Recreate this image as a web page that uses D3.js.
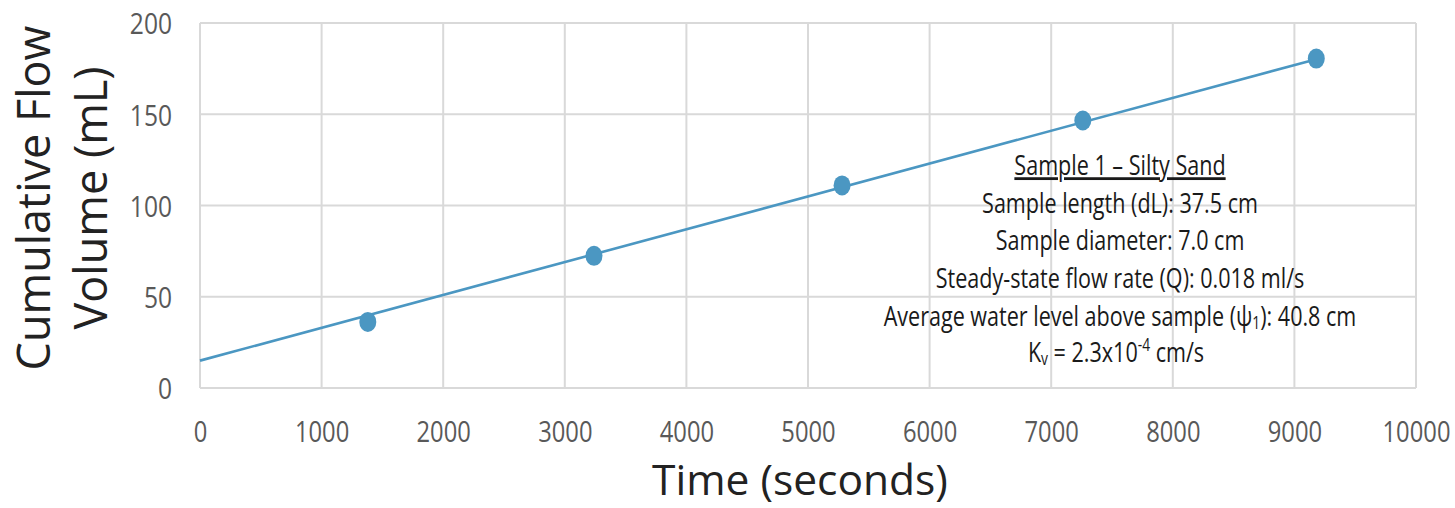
<!DOCTYPE html>
<html>
<head>
<meta charset="utf-8">
<script src="https://cdn.jsdelivr.net/npm/d3@7"></script>
<style>
  html, body { margin: 0; padding: 0; background: #fff; }
  svg { display: block; }
</style>
</head>
<body>
<svg id="chart" width="1455" height="508"></svg>
<script>
// ---- data ----
const timeSeconds = [1380, 3240, 5280, 7260, 9180];
const cumulativeVolume = [36.2, 72.4, 111, 146.6, 180.5];
const trendTime = [0, 9180];
const trendVolume = [15, 180.2];
const xTicks = [0, 1000, 2000, 3000, 4000, 5000, 6000, 7000, 8000, 9000, 10000];
const yTicks = [0, 50, 100, 150, 200];
const xTitle = "Time (seconds)";
const yTitleLines = ["Cumulative Flow", "Volume (mL)"];
const noteTitle = "Sample 1 \u2013 Silty Sand";
const noteLines = [
  "Sample length (dL): 37.5 cm",
  "Sample diameter: 7.0 cm",
  "Steady-state flow rate (Q): 0.018 ml/s"
];

// ---- layout ----
const svg = d3.select("#chart");
const plotLeft = 200, plotRight = 1416, plotTop = 23, plotBottom = 388;
const x = d3.scaleLinear().domain([0, 10000]).range([plotLeft, plotRight]);
const y = d3.scaleLinear().domain([0, 200]).range([plotBottom, plotTop]);
const tickSqueeze = 0.82;
const noteSqueeze = 0.77;
const font = "'Open Sans', 'Noto Sans', sans-serif";
const gridColor = "#d9d9d9";
const blue = "#4b97c2";

// gridlines
svg.append("g").selectAll("line").data(xTicks).join("line")
  .attr("x1", d => x(d)).attr("x2", d => x(d))
  .attr("y1", plotTop).attr("y2", plotBottom)
  .attr("stroke", gridColor).attr("stroke-width", 2);
svg.append("g").selectAll("line").data(yTicks).join("line")
  .attr("x1", plotLeft).attr("x2", plotRight)
  .attr("y1", d => y(d)).attr("y2", d => y(d))
  .attr("stroke", gridColor).attr("stroke-width", 2);

// axes (labels only)
const xAxis = svg.append("g").attr("transform", `translate(0,${plotBottom})`)
  .call(d3.axisBottom(x).tickValues(xTicks).tickSize(0).tickFormat(d3.format("d")));
xAxis.select(".domain").remove();
xAxis.selectAll("text")
  .attr("y", 54).attr("dy", 0)
  .attr("font-family", font).attr("font-size", 29).attr("fill", "#595959")
  .attr("transform", `scale(${tickSqueeze},1)`);

const yAxis = svg.append("g").attr("transform", `translate(${plotLeft},0)`)
  .call(d3.axisLeft(y).tickValues(yTicks).tickSize(0).tickFormat(d3.format("d")));
yAxis.select(".domain").remove();
yAxis.selectAll("text")
  .attr("x", -28 / tickSqueeze).attr("dy", "0.36em")
  .attr("font-family", font).attr("font-size", 30).attr("fill", "#595959")
  .attr("transform", `scale(${tickSqueeze},1)`);

// trendline
const line = d3.line().x(d => x(d[0])).y(d => y(d[1]));
svg.append("path")
  .datum(trendTime.map((t, i) => [t, trendVolume[i]]))
  .attr("d", line).attr("fill", "none")
  .attr("stroke", blue).attr("stroke-width", 2.6);

// points
svg.append("g").selectAll("ellipse").data(timeSeconds).join("ellipse")
  .attr("cx", d => x(d)).attr("cy", (d, i) => y(cumulativeVolume[i]))
  .attr("rx", 8.5).attr("ry", 10).attr("fill", blue);

// axis titles
svg.append("text").attr("x", 800).attr("y", 495)
  .attr("text-anchor", "middle").attr("font-family", font)
  .attr("font-size", 42.5).attr("fill", "#222").text(xTitle);

const yt = svg.append("g").attr("transform", "translate(0,198) rotate(-90)");
yTitleLines.forEach((s, i) => {
  yt.append("text").attr("x", 0).attr("y", 50 + i * 57)
    .attr("text-anchor", "middle").attr("font-family", font)
    .attr("font-size", 45).attr("fill", "#222").text(s);
});

// annotation
const note = svg.append("g")
  .attr("transform", `translate(1120,0) scale(${noteSqueeze},1)`)
  .attr("font-family", font).attr("font-size", 28).attr("fill", "#1a1a1a")
  .attr("text-anchor", "middle");
note.append("text").attr("x", 0).attr("y", 175)
  .style("text-decoration", "underline").text(noteTitle);
noteLines.forEach((s, i) => {
  note.append("text").attr("x", 0).attr("y", 213 + i * 37.5).text(s);
});
const l4 = note.append("text").attr("x", 0).attr("y", 326);
l4.append("tspan").text("Average water level above sample (\u03c8");
l4.append("tspan").attr("font-size", 18).attr("dy", 3).text("1");
l4.append("tspan").attr("dy", -3).text("): 40.8 cm");
const l5 = note.append("text").attr("x", -4 / noteSqueeze).attr("y", 362);
l5.append("tspan").text("K");
l5.append("tspan").attr("font-size", 18).attr("dy", 3).text("v");
l5.append("tspan").attr("dy", -3).text(" = 2.3x10");
l5.append("tspan").attr("font-size", 18).attr("dy", -11).text("-4");
l5.append("tspan").attr("dy", 11).text(" cm/s");
</script>
</body>
</html>
